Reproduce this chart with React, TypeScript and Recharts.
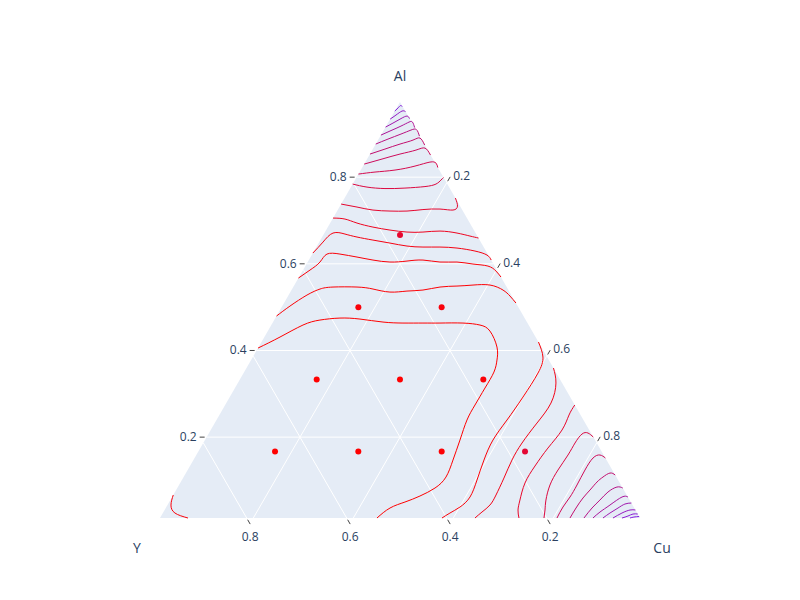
import React from 'react';
import { ComposedChart, Area, Line, Scatter, XAxis, YAxis } from 'recharts';

// every ternary axis starts a little above 0, so the drawn triangle is this far in
const AXIS_MIN = 0.0133;

const tickValues = [0.2, 0.4, 0.6, 0.8];
const axisTitles = ['Al', 'Y', 'Cu'];

// the ten sample points, Al and Cu fractions (Y = 1 - Al - Cu)
const pointAl = [0.6667, 0.5, 0.5, 0.3333, 0.3333, 0.3333, 0.1667, 0.1667, 0.1667, 0.1667];
const pointCu = [0.1667, 0.1667, 0.3333, 0.1667, 0.3333, 0.5, 0.1667, 0.3333, 0.5, 0.6667];
const pointLevel = [0.8, 0.96, 0.95, 1, 1, 0.97, 1, 1, 0.98, 0.78];

// contour lines as [Al, Cu] pairs
const u1 = [[0.9525, 0.0133], [0.9595, 0.0162], [0.9652, 0.0184], [0.9629, 0.0231]];
const u2 = [[0.9341, 0.0133], [0.9433, 0.0203], [0.9525, 0.0277], [0.9514, 0.0353]];
const u3 = [[0.9156, 0.0133], [0.9248, 0.0235], [0.9352, 0.0344], [0.941, 0.0435], [0.9352, 0.0514]];
const u4 = [[0.8971, 0.0133], [0.9075, 0.0282], [0.9179, 0.043], [0.9271, 0.0544], [0.9271, 0.0614], [0.9145, 0.0721]];
const u5 = [[0.8764, 0.0133], [0.8879, 0.032], [0.8995, 0.0522], [0.9087, 0.0676], [0.9098, 0.078], [0.8948, 0.0915]];
const u6 = [[0.8533, 0.0133], [0.8648, 0.0375], [0.8764, 0.0618], [0.8856, 0.0832], [0.8902, 0.0949], [0.8741, 0.1123]];
const u7 = [[0.8302, 0.0133], [0.8418, 0.0431], [0.8533, 0.0733], [0.8625, 0.1007], [0.8671, 0.1164], [0.851, 0.1355]];
const u8 = [[0.8071, 0.0133], [0.8118, 0.0441], [0.8164, 0.0818], [0.8256, 0.1172], [0.8348, 0.1425], [0.8325, 0.1557], [0.8222, 0.1645]];
const c2 = [[0.7841, 0.0133], [0.7771, 0.0454], [0.7737, 0.0831], [0.7748, 0.1225], [0.7783, 0.1608], [0.7841, 0.1799], [0.7933, 0.1853], [0.7991, 0.1874]];
const c3 = [[0.7379, 0.0133], [0.731, 0.0485], [0.7241, 0.0839], [0.7218, 0.1191], [0.7218, 0.1531], [0.7252, 0.1833], [0.7264, 0.2168], [0.7241, 0.2439], [0.7333, 0.2483], [0.7518, 0.2349]];
const c4 = [[0.7056, 0.0133], [0.7033, 0.0383], [0.6941, 0.0669], [0.6848, 0.1035], [0.6779, 0.141], [0.6733, 0.1773], [0.6733, 0.2093], [0.6756, 0.2422], [0.671, 0.2785], [0.6641, 0.3079], [0.6595, 0.3272]];
const c5 = [[0.6248, 0.0133], [0.6502, 0.0209], [0.671, 0.0305], [0.6687, 0.0556], [0.6618, 0.0831], [0.6548, 0.1185], [0.6479, 0.156], [0.641, 0.1935], [0.6387, 0.2266], [0.6387, 0.2606], [0.6364, 0.2958], [0.6295, 0.3352], [0.6202, 0.3639], [0.6087, 0.378]];
const c6 = [[0.5671, 0.0133], [0.5856, 0.0272], [0.6041, 0.0379], [0.6225, 0.0427], [0.6225, 0.0687], [0.6156, 0.1062], [0.6087, 0.1416], [0.6041, 0.1779], [0.6064, 0.2108], [0.6087, 0.2416], [0.6041, 0.2779], [0.6041, 0.3119], [0.5995, 0.3462], [0.5948, 0.3785], [0.5833, 0.4003], [0.5695, 0.4172]];
const c7 = [[0.4795, 0.0133], [0.5025, 0.0287], [0.5279, 0.05], [0.5418, 0.0691], [0.5464, 0.0928], [0.5464, 0.1408], [0.5418, 0.1751], [0.5348, 0.2125], [0.5371, 0.2454], [0.5395, 0.2762], [0.5464, 0.3068], [0.5487, 0.3396], [0.551, 0.3705], [0.551, 0.4045], [0.5395, 0.4362], [0.5256, 0.4572], [0.5095, 0.4772]];
const c8 = [[0.4056, 0.0133], [0.431, 0.0445], [0.4587, 0.0766], [0.4702, 0.1048], [0.4748, 0.1425], [0.4725, 0.1837], [0.4656, 0.2332], [0.4633, 0.2743], [0.4633, 0.3143], [0.4633, 0.3483], [0.4633, 0.3943], [0.4587, 0.4306], [0.4448, 0.4575], [0.4079, 0.49], [0.3779, 0.505], [0.3502, 0.5128], [0.3133, 0.5133], [0.2741, 0.5129], [0.2395, 0.5142], [0.1933, 0.5233], [0.1471, 0.5324], [0.1079, 0.538], [0.0825, 0.5287], [0.0641, 0.5079], [0.0502, 0.4848], [0.0364, 0.4618], [0.0133, 0.4473]];
const c9 = [[0.4195, 0.5672], [0.3848, 0.5935], [0.3479, 0.602], [0.2925, 0.5997], [0.2395, 0.5942], [0.1933, 0.5893], [0.1471, 0.5944], [0.101, 0.6035], [0.0618, 0.6091], [0.0387, 0.6006], [0.0248, 0.5875], [0.0133, 0.5773]];
const c10 = [[0.3595, 0.6272], [0.3248, 0.6495], [0.2787, 0.6626], [0.2325, 0.6577], [0.1864, 0.6508], [0.1471, 0.6504], [0.1056, 0.6551], [0.0664, 0.6588], [0.0433, 0.6583], [0.0271, 0.6504], [0.0133, 0.6433]];
const c11 = [[0.2741, 0.7125], [0.251, 0.7125], [0.2164, 0.7158], [0.1748, 0.7085], [0.1333, 0.7033], [0.0941, 0.7029], [0.0548, 0.7125], [0.0318, 0.7201], [0.0133, 0.7313]];
const c12 = [[0.2002, 0.7864], [0.2095, 0.7712], [0.2071, 0.7604], [0.1864, 0.7568], [0.1587, 0.7566], [0.1241, 0.7539], [0.0895, 0.7552], [0.0548, 0.7645], [0.0318, 0.7741], [0.0133, 0.7813]];
const c13 = [[0.1518, 0.8349], [0.1587, 0.8206], [0.1518, 0.8101], [0.1241, 0.8079], [0.0895, 0.8092], [0.0618, 0.8091], [0.0387, 0.8066], [0.0133, 0.8073]];
const c14 = [[0.1125, 0.8742], [0.1171, 0.8614], [0.1079, 0.852], [0.0964, 0.8458], [0.0779, 0.841], [0.0595, 0.8362], [0.0364, 0.8338], [0.0133, 0.8333]];
const c15 = [[0.0825, 0.9042], [0.0848, 0.8915], [0.0733, 0.8793], [0.0548, 0.8725], [0.0364, 0.8658], [0.0133, 0.8613]];
const c16 = [[0.0618, 0.9249], [0.0618, 0.9131], [0.0433, 0.8983], [0.0271, 0.8864], [0.0133, 0.8793]];
const c17 = [[0.0479, 0.9388], [0.0456, 0.9271], [0.0364, 0.9178], [0.0248, 0.9075], [0.0133, 0.8993]];
const c18 = [[0.0318, 0.9549], [0.0318, 0.9441], [0.0248, 0.9315], [0.0133, 0.9193]];
const c19 = [[0.0225, 0.9642], [0.0225, 0.9547], [0.0179, 0.947], [0.0133, 0.9373]];
const c20 = [[0.0168, 0.9699], [0.0156, 0.9601], [0.0133, 0.9533]];
const cornerY = [[0.0664, 0.0133], [0.0433, 0.0203], [0.0248, 0.0375], [0.0133, 0.0693]];

const contourLines = [u1, u2, u3, u4, u5, u6, u7, u8, c2, c3, c4, c5, c6, c7, c8, c9, c10, c11, c12, c13, c14, c15, c16, c17, c18, c19, c20, cornerY];
// 1 = red end of the colour scale, 0 = violet end
const contourLevels = [0.05, 0.15, 0.25, 0.35, 0.45, 0.52, 0.6, 0.66, 0.72, 0.8, 0.86, 0.92, 0.96, 0.98, 1, 0.97, 0.9, 0.82, 0.72, 0.62, 0.52, 0.42, 0.33, 0.24, 0.16, 0.08, 0.02, 0.96];

const FONT = '"Open Sans", verdana, arial, sans-serif';
const TEXT = '#2a3f5f';

// ternary -> plane: x = Cu + Al/2, y = Al (the y axis domain keeps the triangle equilateral)
const toXY = (al: number, cu: number) => ({ x: cu + al / 2, y: al });

// violet (130,30,230) -> red (255,0,0)
const levelColor = (t: number) =>
  `rgb(${Math.round(130 + 125 * t)},${Math.round(30 * (1 - t))},${Math.round(230 * (1 - t))})`;

const m = AXIS_MIN;
const hi = 1 - 2 * m;

const triangle = [toXY(m, m), toXY(hi, m), toXY(m, hi)];

const gridLines = tickValues.flatMap(v => [
  [toXY(v, m), toXY(v, 1 - m - v)],
  [toXY(m, v), toXY(1 - m - v, v)],
  [toXY(m, 1 - m - v), toXY(1 - m - v, m)],
]);

const alTicks = tickValues.map(v => ({ ...toXY(v, m), label: String(v) }));
const cuTicks = tickValues.map(v => ({ ...toXY(1 - m - v, v), label: String(v) }));
const yTicks = tickValues.map(v => ({ ...toXY(m, 1 - m - v), label: String(v) }));

const titleCorners = [toXY(hi, m), toXY(m, m), toXY(m, hi)];
const titleData = axisTitles.map((t, i) => ({ ...titleCorners[i], label: t }));
const titleOffset: Record<string, [number, number]> = { Al: [0, -21], Y: [-23, 35], Cu: [22, 35] };

const samplePoints = pointAl.map((al, i) => ({ ...toXY(al, pointCu[i]), level: pointLevel[i] }));

const tickShape = (dx: number, dy: number, anchor: 'start' | 'middle' | 'end', lx: number, ly: number) =>
  (p: any) => (
    <g>
      <line
        x1={p.cx + dx * 2}
        y1={p.cy + dy * 2}
        x2={p.cx + dx * 7}
        y2={p.cy + dy * 7}
        stroke="#444"
        strokeWidth={1}
      />
      <text x={p.cx + lx} y={p.cy + ly} textAnchor={anchor} fontSize={12} fill={TEXT} fontFamily={FONT}>
        {p.payload.label}
      </text>
    </g>
  );

const TitleShape = (p: any) => {
  const [ox, oy] = titleOffset[p.payload.label];
  return (
    <text x={p.cx + ox} y={p.cy + oy} textAnchor="middle" fontSize={14} fill={TEXT} fontFamily={FONT}>
      {p.payload.label}
    </text>
  );
};

const DotShape = (p: any) => <circle cx={p.cx} cy={p.cy} r={3} fill={levelColor(p.payload.level)} />;

const App: React.FC = () => {
  return (
    <div style={{ position: 'absolute', left: 0, top: 0, width: 800, height: 600, background: '#fff' }}>
      <ComposedChart width={800} height={600} margin={{ top: 0, right: 0, bottom: 0, left: 0 }}>
        <XAxis type="number" dataKey="x" domain={[-0.3, 1.3]} allowDataOverflow hide />
        <YAxis type="number" dataKey="y" domain={[-0.1759, 1.2089]} allowDataOverflow hide />

        <Area
          data={triangle}
          dataKey="y"
          type="linear"
          baseValue={m}
          fill="#E5ECF6"
          fillOpacity={1}
          stroke="none"
          dot={false}
          activeDot={false}
          isAnimationActive={false}
        />

        {gridLines.map((seg, i) => (
          <Line
            key={'g' + i}
            data={seg}
            dataKey="y"
            type="linear"
            stroke="#ffffff"
            strokeWidth={1}
            dot={false}
            activeDot={false}
            isAnimationActive={false}
          />
        ))}

        {contourLines.map((pts, i) => (
          <Line
            key={'c' + i}
            data={pts.map(([al, cu]) => toXY(al, cu))}
            dataKey="y"
            type="natural"
            stroke={levelColor(contourLevels[i])}
            strokeWidth={1}
            dot={false}
            activeDot={false}
            isAnimationActive={false}
          />
        ))}

        <Scatter data={samplePoints} dataKey="y" shape={DotShape} isAnimationActive={false} />

        <Scatter data={alTicks} dataKey="y" shape={tickShape(-1, 0, 'end', -10, 4)} isAnimationActive={false} />
        <Scatter data={cuTicks} dataKey="y" shape={tickShape(0.5, -0.866, 'start', 6.5, -3)} isAnimationActive={false} />
        <Scatter data={yTicks} dataKey="y" shape={tickShape(0.5, 0.866, 'middle', 3.5, 23)} isAnimationActive={false} />
        <Scatter data={titleData} dataKey="y" shape={TitleShape} isAnimationActive={false} />
      </ComposedChart>
    </div>
  );
};

export default App;
